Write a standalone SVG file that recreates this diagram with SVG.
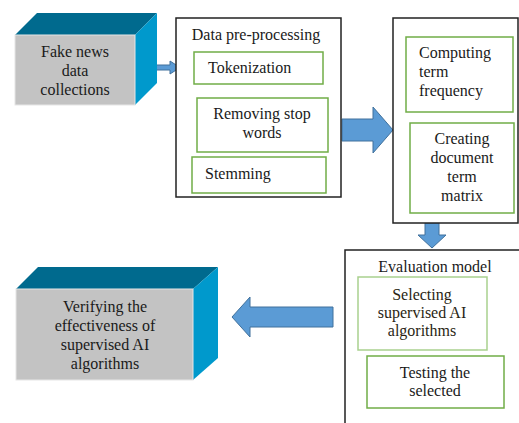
<svg xmlns="http://www.w3.org/2000/svg" width="519" height="423" viewBox="0 0 519 423">
<style>
text{font-family:"Liberation Serif","Times New Roman",serif;font-size:16px;fill:#1a1a1a}
.c{text-anchor:middle}
.frame{fill:#fff;stroke:#222;stroke-width:1.5}
.step{fill:#fff;stroke:#70ad47;stroke-width:1.5}
.stepl{fill:#fff;stroke:#a9d18e;stroke-width:1.5}
.front{fill:#c3c3c3;stroke:#e6e6e6;stroke-width:1}
.top{fill:#006a8e}
.side{fill:#0099cc}
.arrow{fill:#5b9bd5;stroke:#41719c;stroke-width:1}
</style>
<rect width="519" height="423" fill="#fff"/>
<g id="connectors">
<path class="arrow" d="M155,65 H170 V61 L180,67.5 L170,74 V70 H155 Z"/>
<path class="arrow" d="M342,119 H373 V107 L393,130 L373,153 V141 H342 Z"/>
<path class="arrow" d="M425,223 H439 V235 H446 L432,248 L418,235 H425 Z"/>
<path class="arrow" d="M333,307 V327 H250 V337 L232,317 L250,297 V307 Z"/>
</g>
<g id="fake-news">
<polygon class="top" points="15,35 37,13 157,13 135,35"/>
<polygon class="side" points="135,35 157,13 157,83 135,105"/>
<rect class="front" x="15" y="35" width="120" height="70"/>
<text class="c" x="75" y="57">Fake news</text>
<text class="c" x="75" y="76">data</text>
<text class="c" x="75" y="95">collections</text>
</g>
<g id="preprocessing">
<rect class="frame" x="176" y="18" width="165" height="179"/>
<text class="c" x="256" y="40">Data pre-processing</text>
</g>
<g id="tokenization">
<rect class="step" x="194" y="52" width="129" height="32"/>
<text x="208" y="73">Tokenization</text>
</g>
<g id="stopwords">
<rect class="step" x="197" y="98" width="131" height="54"/>
<text class="c" x="262" y="119">Removing stop</text>
<text class="c" x="262" y="138">words</text>
</g>
<g id="stemming">
<rect class="step" x="192" y="157" width="134" height="36"/>
<text x="205" y="179">Stemming</text>
</g>
<g id="term-stage">
<rect class="frame" x="393" y="18" width="125" height="205"/>
</g>
<g id="term-frequency">
<rect class="step" x="406" y="37" width="107" height="75"/>
<text x="419" y="58">Computing</text>
<text x="419" y="77">term</text>
<text x="419" y="96">frequency</text>
</g>
<g id="term-matrix">
<rect class="step" x="410" y="123" width="104" height="90"/>
<text class="c" x="462" y="144">Creating</text>
<text class="c" x="462" y="163">document</text>
<text class="c" x="462" y="182">term</text>
<text class="c" x="462" y="201">matrix</text>
</g>
<g id="evaluation">
<rect class="frame" x="345" y="250" width="190" height="200"/>
<text class="c" x="435" y="272">Evaluation model</text>
</g>
<g id="selecting">
<rect class="stepl" x="358" y="277" width="129" height="73"/>
<text class="c" x="422" y="300" style="fill:#2a1f14">Selecting</text>
<text class="c" x="422" y="318" style="fill:#2a1f14">supervised AI</text>
<text class="c" x="422" y="336" style="fill:#2a1f14">algorithms</text>
</g>
<g id="testing">
<rect class="step" x="367" y="356" width="137" height="52"/>
<text class="c" x="435" y="378">Testing the</text>
<text class="c" x="435" y="396">selected</text>
</g>
<g id="verifying">
<polygon class="top" points="16,289 38,267 218,267 193,289"/>
<polygon class="side" points="193,289 218,267 218,358 193,380"/>
<rect class="front" x="16" y="289" width="177" height="91"/>
<text class="c" x="105" y="312">Verifying the</text>
<text class="c" x="105" y="331">effectiveness of</text>
<text class="c" x="105" y="350">supervised AI</text>
<text class="c" x="105" y="369">algorithms</text>
</g>
</svg>
